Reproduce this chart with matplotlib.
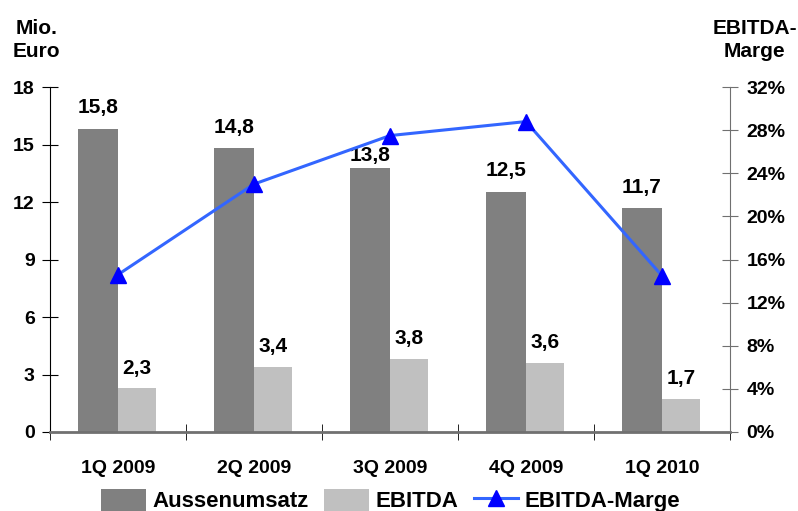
import numpy as np
import matplotlib.pyplot as plt
from matplotlib.ticker import FuncFormatter

plt.rcParams['font.family'] = ['Liberation Sans', 'DejaVu Sans']
plt.rcParams['font.weight'] = 'bold'

quarters = ["1Q 2009", "2Q 2009", "3Q 2009", "4Q 2009", "1Q 2010"]
umsatz = [15.8, 14.8, 13.8, 12.5, 11.7]
ebitda = [2.3, 3.4, 3.8, 3.6, 1.7]
marge = [14.6, 23.0, 27.5, 28.8, 14.5]

# label offsets above the bars (points); 3Q label sits lower, under the line
umsatz_off = [12, 11, 5, 12, 11]
ebitda_off = [10, 11, 11, 11, 11]

DARK = "#808080"
LIGHT = "#c0c0c0"

fig = plt.figure(figsize=(7.98, 5.11), dpi=100)
ax = fig.add_axes([0.0627, 0.1546, 0.852, 0.675])
x = np.arange(len(quarters))
wd, wl = 0.294, 0.28

b1 = ax.bar(x - wd / 2, umsatz, wd, color=DARK, label="Aussenumsatz", zorder=2)
b2 = ax.bar(x + wl / 2, ebitda, wl, color=LIGHT, label="EBITDA", zorder=2)

def fmt(v):
    return f"{v:.1f}".replace(".", ",")

for xi, v, o in zip(x, umsatz, umsatz_off):
    ax.annotate(fmt(v), (xi - wd / 2, v), xytext=(0, o), textcoords="offset points",
                ha="center", va="baseline", fontsize=15, fontweight="bold")
for xi, v, o in zip(x, ebitda, ebitda_off):
    ax.annotate(fmt(v), (xi + wl / 2, v), xytext=(0, o), textcoords="offset points",
                ha="center", va="baseline", fontsize=15, fontweight="bold")

ax.set_xlim(-0.5, len(quarters) - 0.5)
ax.set_ylim(0, 18)
ax.set_yticks(range(0, 19, 3))
ax.set_xticks(x)
ax.set_xticklabels(quarters, fontsize=14, fontweight="bold")
ax.set_xticks(np.arange(-0.5, len(quarters), 1.0), minor=True)
ax.tick_params(axis="x", which="major", length=0, pad=20)
ax.tick_params(axis="x", which="minor", length=12, direction="inout", color="black")
ax.tick_params(axis="y", direction="inout", length=12, labelsize=14, pad=5)
for lab in ax.get_yticklabels():
    lab.set_fontweight("bold")

ax.spines["top"].set_visible(False)
ax.spines["right"].set_visible(False)
ax.spines["bottom"].set_color("#707070")
ax.spines["bottom"].set_linewidth(2)
ax.spines["left"].set_color("black")

ax2 = ax.twinx()
ln, = ax2.plot(x, marge, color="#3366ff", lw=2.2, marker="^", markersize=12,
               markerfacecolor="#0000ff", markeredgecolor="#0000ff", label="EBITDA-Marge", zorder=3)
ax2.set_ylim(0, 32)
ax2.set_yticks(range(0, 33, 4))
ax2.yaxis.set_major_formatter(FuncFormatter(lambda v, p: f"{int(v)}%"))
ax2.tick_params(axis="y", direction="inout", length=12, labelsize=14, pad=6, color="#707070")
for lab in ax2.get_yticklabels():
    lab.set_fontweight("bold")
for s in ["top", "left", "bottom"]:
    ax2.spines[s].set_visible(False)
ax2.spines["right"].set_color("#707070")

fig.text(0.046, 0.962, "Mio.\nEuro", ha="center", va="top", fontsize=15, fontweight="bold", linespacing=1.25)
fig.text(0.946, 0.962, "EBITDA-\nMarge", ha="center", va="top", fontsize=15, fontweight="bold", linespacing=1.25)

fig.legend(handles=[b1, b2, ln], loc="lower center", bbox_to_anchor=(0.49, -0.042), ncol=3,
           frameon=False, prop={"size": 16, "weight": "bold"}, handlelength=2.0,
           handleheight=1.1, handletextpad=0.3, columnspacing=0.7)

fig.savefig("out.png", dpi=100)
